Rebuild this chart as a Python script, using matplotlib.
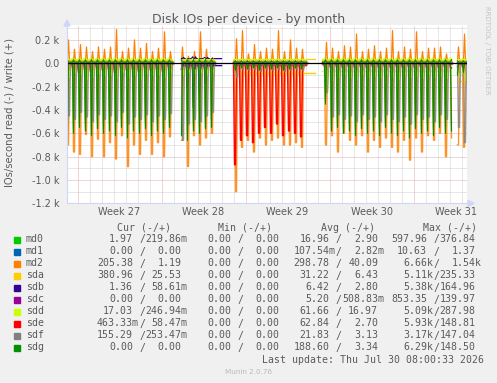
import numpy as np
import matplotlib
matplotlib.use("Agg")
import matplotlib.pyplot as plt
from matplotlib.patches import Rectangle, Polygon

nan = np.nan
W, H = 497, 383

names = ["md0", "md1", "md2", "sda", "sdb", "sdc", "sdd", "sde", "sdf", "sdg"]
colors = ["#00CC00", "#0066B3", "#FF8000", "#FFCC00", "#330099",
          "#990099", "#CCFF00", "#FF0000", "#808080", "#008F00"]

week_labels = ["Week 27", "Week 28", "Week 29", "Week 30", "Week 31"]
week_label_pos = [3.5, 10.5, 17.5, 24.5, 31.5]          # days
y_ticks = [0.2, 0.0, -0.2, -0.4, -0.6, -0.8, -1.0, -1.2]  # k IOs/s
y_tick_labels = ["0.2 k", "0.0", "-0.2 k", "-0.4 k", "-0.6 k", "-0.8 k", "-1.0 k", "-1.2 k"]

# time ranges (days after the Week 27 boundary) where data exists
segments = [(-0.9, 7.96), (8.6, 11.46), (12.96, 19.1), (20.4, 31.2), (31.6, 32.5)]


def seg(a, b, c, d, e):
    # half-day values: A(18) gap(1) B(6) gap(3) C(12) gap(3) D(22) E(2)
    return a + [nan] + b + [nan] * 3 + c + [nan] * 3 + d + e


# ---- peak values per half-day (k IOs/s), read shown negative ----
md2_write = seg([0.20, 0.12, 0.16, 0.14, 0.10, 0.14, 0.12, 0.14, 0.29, 0.10, 0.13, 0.20, 0.13, 0.17, 0.10, 0.13, 0.27, 0.10],
                [0.14, 0.06, 0.10, 0.27, 0.12, 0.05],
                [0.21, 0.28, 0.08, 0.16, 0.10, 0.13, 0.12, 0.28, 0.10, 0.20, 0.13, 0.12],
                [0.18, 0.13, 0.10, 0.15, 0.14, 0.25, 0.10, 0.12, 0.15, 0.10, 0.13, 0.28, 0.10, 0.14, 0.12, 0.27, 0.10, 0.13, 0.13, 0.14, 0.08, 0.17],
                [0.14, 0.25])
md2_read = seg([0.70, 0.76, 0.78, 0.61, 0.80, 0.65, 0.80, 0.68, 0.82, 0.62, 0.885, 0.70, 0.78, 0.66, 0.78, 0.68, 0.80, 0.63],
               [0.66, 0.885, 0.62, 0.70, 0.64, 0.60],
               [1.10, 0.72, 0.66, 0.76, 0.64, 0.70, 0.66, 0.64, 0.70, 0.70, 0.68, 0.72],
               [0.70, 0.62, 0.76, 0.60, 0.66, 0.70, 0.62, 0.76, 0.66, 0.72, 0.64, 0.72, 0.76, 0.66, 0.83, 0.64, 0.76, 0.62, 0.66, 0.60, 0.80, 0.64],
               [0.70, 0.72])
sdg_read = seg([0.58, 0.60, 0.55, 0.58, 0.62, 0.56, 0.60, 0.58, 0.62, 0.55, 0.64, 0.58, 0.60, 0.56, 0.62, 0.58, 0.60, 0.55],
               [0.62, 0.66, 0.58, 0.60, 0.56, 0.55],
               [0.06, 0.04, 0.05, 0.04, 0.06, 0.04, 0.05, 0.04, 0.06, 0.05, 0.04, 0.05],
               [0.35, 0.58, 0.55, 0.60, 0.58, 0.62, 0.56, 0.60, 0.58, 0.62, 0.55, 0.60, 0.62, 0.58, 0.64, 0.56, 0.60, 0.58, 0.62, 0.55, 0.60, 0.58],
               [0.10, 0.08])
sdg_write = seg([0.03] * 18, [0.03] * 6, [0.02] * 12, [0.03] * 22, [0.02] * 2)
md0_read = seg([0.50, 0.55, 0.48, 0.52, 0.56, 0.50, 0.54, 0.52, 0.56, 0.48, 0.58, 0.52, 0.54, 0.50, 0.56, 0.52, 0.55, 0.50],
               [0.56, 0.60, 0.52, 0.55, 0.50, 0.48],
               [0.04, 0.03, 0.04, 0.03, 0.04, 0.03, 0.04, 0.03, 0.04, 0.03, 0.04, 0.03],
               [0.30, 0.52, 0.50, 0.55, 0.52, 0.56, 0.50, 0.54, 0.52, 0.56, 0.50, 0.54, 0.56, 0.52, 0.58, 0.50, 0.54, 0.52, 0.56, 0.50, 0.54, 0.52],
               [0.08, 0.06])
sdf_read = seg([0.45, 0.48, 0.42, 0.46, 0.50, 0.44, 0.48, 0.45, 0.50, 0.42, 0.52, 0.46, 0.48, 0.44, 0.50, 0.45, 0.48, 0.43],
               [0.66, 0.52, 0.48, 0.50, 0.45, 0.42],
               [0.12, 0.05, 0.06, 0.05, 0.07, 0.05, 0.06, 0.05, 0.07, 0.06, 0.05, 0.06],
               [0.25, 0.46, 0.44, 0.48, 0.45, 0.50, 0.44, 0.48, 0.46, 0.50, 0.44, 0.48, 0.50, 0.46, 0.52, 0.44, 0.48, 0.46, 0.50, 0.44, 0.48, 0.46],
               [0.55, 0.68])
sde_read = seg([0.06, 0.04, 0.08, 0.05, 0.07, 0.04, 0.06, 0.05, 0.08, 0.04, 0.06, 0.05, 0.07, 0.04, 0.06, 0.05, 0.07, 0.04],
               [0.05, 0.04, 0.05, 0.04, 0.05, 0.04],
               [0.87, 0.66, 0.62, 0.68, 0.60, 0.55, 0.60, 0.52, 0.62, 0.58, 0.60, 0.63],
               [0.03, 0.04, 0.03, 0.04, 0.03, 0.04, 0.03, 0.04, 0.03, 0.04, 0.03, 0.04, 0.03, 0.04, 0.03, 0.04, 0.03, 0.04, 0.03, 0.04, 0.03, 0.04],
               [0.03, 0.03])
sdd_read = seg([0.12, 0.08, 0.10, 0.14, 0.12, 0.09, 0.11, 0.10, 0.13, 0.08, 0.12, 0.10, 0.14, 0.09, 0.11, 0.10, 0.12, 0.08],
               [0.10, 0.08, 0.09, 0.08, 0.10, 0.08],
               [0.03, 0.03, 0.03, 0.03, 0.03, 0.03, 0.03, 0.03, 0.03, 0.03, 0.03, 0.03],
               [0.25, 0.15, 0.12, 0.10, 0.12, 0.14, 0.10, 0.12, 0.11, 0.13, 0.10, 0.12, 0.14, 0.10, 0.12, 0.11, 0.13, 0.10, 0.12, 0.11, 0.13, 0.10],
               [0.12, 0.15])
sdd_write = seg([0.045] * 18, [0.04] * 6, [0.035] * 12, [0.045] * 22, [0.04] * 2)
sdb_read = seg([nan] * 18, [0.05, 0.21, 0.38, 0.25, 0.17, 0.05], [nan] * 12, [nan] * 22, [nan] * 2)
sdb_write = seg([nan] * 18, [0.05, 0.03, 0.055, 0.035, 0.05, 0.03], [nan] * 12, [nan] * 22, [nan] * 2)
sdc_read = seg([nan] * 18, [0.03, 0.06, 0.10, 0.05, 0.04, 0.03], [nan] * 12, [nan] * 22, [nan] * 2)

# baseline levels per segment (read, write)
base_read = {"md0": [0.01] * 5, "md1": [0.0] * 5, "md2": [0.01] * 5, "sda": [0.01, 0.01, 0.08, 0.01, 0.15],
             "sdb": [0.0, 0.02, 0.0, 0.0, 0.0], "sdc": [0.0] * 5, "sdd": [0.05, 0.05, 0.02, 0.07, 0.08],
             "sde": [0.0, 0.0, 0.02, 0.0, 0.0], "sdf": [0.01] * 5, "sdg": [0.0] * 5}
base_write = {"md0": [0.01] * 5, "md1": [0.0] * 5, "md2": [0.02] * 5, "sda": [0.02, 0.02, 0.04, 0.02, 0.02],
              "sdb": [0.0, 0.04, 0.0, 0.0, 0.0], "sdc": [0.0] * 5, "sdd": [0.03] * 5,
              "sde": [0.0] * 5, "sdf": [0.01] * 5, "sdg": [0.01] * 5}

# legend table
cur_read = ["1.97", "0.00", "205.38", "380.96", "1.36", "0.00", "17.03", "463.33m", "155.29", "0.00"]
cur_write = ["219.86m", "0.00", "1.19", "25.53", "58.61m", "0.00", "246.94m", "58.47m", "253.47m", "0.00"]
min_read = ["0.00"] * 10
min_write = ["0.00"] * 10
avg_read = ["16.96", "107.54m", "298.78", "31.22", "6.42", "5.20", "61.66", "62.84", "21.83", "188.60"]
avg_write = ["2.90", "2.82m", "40.09", "6.43", "2.80", "508.83m", "16.97", "2.70", "3.13", "3.34"]
max_read = ["597.96", "10.63", "6.66k", "5.11k", "5.38k", "853.35", "5.09k", "5.93k", "3.17k", "6.29k"]
max_write = ["376.84", "1.37", "1.54k", "235.33", "164.96", "139.97", "287.98", "148.81", "147.04", "148.50"]

# ---------------- build series ----------------
N = 67 * 6
t = -1.0 + np.arange(N) / 12.0
hidx = np.arange(N) // 6
sidx = np.arange(N) % 6


def build(peaks, base, offs, segs=segments):
    y = np.full(N, nan)
    for (a, b), bv in zip(segs, base):
        m = (t >= a) & (t <= b)
        y[m] = bv
    if peaks is not None:
        p = np.asarray(peaks, float)[hidx]
        m = np.isin(sidx, offs) & ~np.isnan(p) & ~np.isnan(y)
        y[m] = p[m]
    return y


segs_sdb = [(-0.9, 7.96), (8.6, 12.04), (12.96, 19.1), (20.4, 31.2), (31.6, 32.5)]
segs_sda = [(-0.9, 7.96), (8.6, 11.46), (12.96, 19.8), (20.4, 31.2), (31.6, 32.5)]

series = {
    "md0": (build(md0_read, base_read["md0"], (2,)), build(None, base_write["md0"], ())),
    "md1": (build(None, base_read["md1"], ()), build(None, base_write["md1"], ())),
    "md2": (build(md2_read, base_read["md2"], (2, 3)), build(md2_write, base_write["md2"], (3,))),
    "sda": (build(None, base_read["sda"], (), segs_sda), build(None, base_write["sda"], (), segs_sda)),
    "sdb": (build(sdb_read, base_read["sdb"], (2,), segs_sdb), build(sdb_write, base_write["sdb"], (1, 4), segs_sdb)),
    "sdc": (build(sdc_read, base_read["sdc"], (3,)), build(None, base_write["sdc"], ())),
    "sdd": (build(sdd_read, base_read["sdd"], (4,)), build(sdd_write, base_write["sdd"], (1,))),
    "sde": (build(sde_read, base_read["sde"], (1, 2)), build(None, base_write["sde"], ())),
    "sdf": (build(sdf_read, base_read["sdf"], (3, 4)), build(None, base_write["sdf"], ())),
    "sdg": (build(sdg_read, base_read["sdg"], (2,)), build(sdg_write, base_write["sdg"], (2,))),
}
read_alpha = {"md0": 0.6, "md2": 0.85, "sdd": 0.8, "sdf": 0.8}
read_lw = {"sdg": 0.85}

# ---------------- figure ----------------
TXT = "#5a5a5a"
fig = plt.figure(figsize=(W / 100, H / 100), dpi=100)
fig.patch.set_facecolor("#F0F0F0")

L, R, T, B = 67, 467, 25, 203.3
ax = fig.add_axes([L / W, 1 - B / H, (R - L) / W, (B - T) / H])
ax.set_facecolor("white")
xmin, xmax = -0.875, 32.458
ymin, ymax = -1.2, 0.328
ax.set_xlim(xmin, xmax)
ax.set_ylim(ymin, ymax)
for s in ax.spines.values():
    s.set_visible(False)

# grid
dot = (0, (1, 1))
for d in range(0, 33):
    major = d % 7 == 0
    ax.axvline(d, color="#E4AAAA" if major else "#D0D0D0", lw=0.72, ls=dot, zorder=0.5 if major else 0.4)
for v in np.arange(-1.1, 0.31, 0.1):
    major = abs(round(v * 10)) % 2 == 0
    ax.axhline(v, color="#E4AAAA" if major else "#D0D0D0", lw=0.72, ls=dot, zorder=0.5 if major else 0.4)

for i, n in enumerate(names):
    rd, wr = series[n]
    ax.plot(t, -rd, color=colors[i], lw=read_lw.get(n, 1.0), alpha=read_alpha.get(n, 1.0), zorder=2 + i * 0.1)
for i, n in enumerate(names):
    rd, wr = series[n]
    ax.plot(t, wr, color=colors[i], lw=0.9, zorder=3 + i * 0.1)
ax.axhline(0, color="black", lw=0.9, zorder=5)

ax.set_yticks(y_ticks)
ax.set_yticklabels(y_tick_labels)
ax.set_xticks(week_label_pos)
ax.set_xticklabels(week_labels)
ax.tick_params(axis="y", length=0, pad=5.5, labelsize=7, labelcolor=TXT)
ax.tick_params(axis="x", length=0, pad=2.5, labelsize=7, labelcolor=TXT)


def fx(x):
    return x / W


def fy(y):
    return 1 - y / H


# axis lines and arrows
AX = "#CFD6F8"
fig.add_artist(plt.Line2D([fx(L), fx(L)], [fy(B), fy(T - 2)], color=AX, lw=0.8))
fig.add_artist(plt.Line2D([fx(L), fx(R + 3)], [fy(B), fy(B)], color=AX, lw=0.8))
fig.add_artist(Polygon([[fx(L - 3), fy(T + 1)], [fx(L + 3), fy(T + 1)], [fx(L), fy(T - 5)]],
                       closed=True, color=AX, transform=fig.transFigure))
fig.add_artist(Polygon([[fx(R + 1), fy(B - 3)], [fx(R + 1), fy(B + 3)], [fx(R + 7), fy(B)]],
                       closed=True, color=AX, transform=fig.transFigure))

# titles
fig.text(fx(248.5), fy(19), "Disk IOs per device - by month", ha="center", va="center",
         fontsize=9, color=TXT)
fig.text(fx(10), fy(112.5), "IOs/second read (-) / write (+)", rotation=90, ha="center",
         va="center", fontsize=7.2, color=TXT)
fig.text(fx(487), fy(6), "RRDTOOL / TOBI OETIKER", rotation=270, ha="center", va="top",
         fontsize=5, color="#C4C4C4")

# legend
MONO = "DejaVu Sans Mono"
FS = 7.15
CW = 5.98


def put(xleft, y, s, color=TXT):
    fig.text(fx(xleft), fy(y), s, ha="left", va="center", fontsize=FS, family=MONO, color=color)


for hx, hs in zip([116.7, 218.3, 321.0, 422.7], ["Cur (-/+)", "Min (-/+)", "Avg (-/+)", "Max (-/+)"]):
    put(hx, 227.7, hs)

read_digits_end = [132.8, 231.1, 329.5, 426.8]   # right edge of digits of the read value
cols = [(cur_read, cur_write), (min_read, min_write), (avg_read, avg_write), (max_read, max_write)]
for i, n in enumerate(names):
    y = 239.5 + 12 * i
    fig.add_artist(Rectangle((fx(14), fy(y + 3)), 6 / W, 6 / H, color=colors[i], transform=fig.transFigure))
    put(26, y, n)
    for c, (rl, wl) in enumerate(cols):
        r = read_digits_end[c]
        rs, ws = rl[i], wl[i]
        rd_end = r + (CW if rs[-1] in "mk" else 0)
        put(rd_end - len(rs) * CW, y, rs)
        put(r + CW + 0.3, y, "/")
        wd_end = r + 8 * CW + 0.8 + (CW if ws[-1] in "mk" else 0)
        put(wd_end - len(ws) * CW, y, ws)

put(262, 359.7, "Last update: Thu Jul 30 08:00:33 2026")
fig.text(fx(248.5), fy(371.7), "Munin 2.0.76", ha="center", va="center", fontsize=5.2, color="#BBBBBB")

fig.savefig("out.png", dpi=100, facecolor=fig.get_facecolor())
